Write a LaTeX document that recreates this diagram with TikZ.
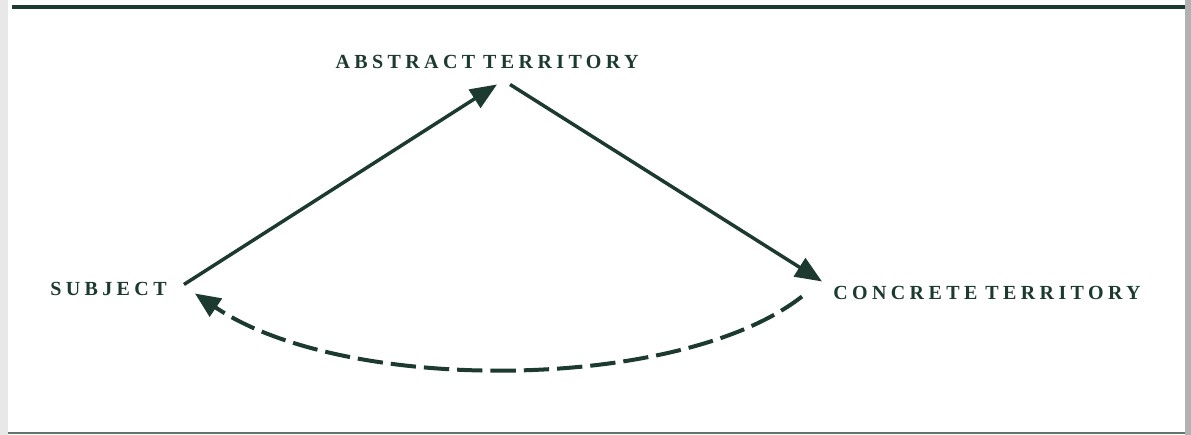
\documentclass[tikz,border=0pt]{standalone}
\usepackage{fontspec}
\setmainfont{Liberation Serif}
\newfontfamily\spaced[LetterSpace=22]{Liberation Serif}
\usetikzlibrary{arrows.meta}
\definecolor{ink}{RGB}{28,58,48}
\tikzset{
  lbl/.style={inner sep=0pt, text=ink, font=\spaced\bfseries\fontsize{15}{17}\selectfont},
  arr/.style={draw=ink, line width=2.6pt, -{Triangle[length=20pt,width=16pt]}},
  darr/.style={draw=ink, line width=3pt, dash pattern=on 19pt off 6pt, -{Triangle[length=19pt,width=16pt]}}
}
\begin{document}
\begin{tikzpicture}[x=0.75pt,y=-0.75pt]
\useasboundingbox (0,0) rectangle (1191,435);
\fill[white] (0,0) rectangle (1191,435);
% frame
\fill[gray!18] (0,0) rectangle (8,435);
\fill[gray!60] (1185,0) rectangle (1191,435);
\draw[ink, line width=2.4pt] (12,7) -- (1185,7);
\draw[ink!70, line width=1.8pt] (8,433) -- (1185,433);
% labels
\node[lbl, anchor=base] (abs) at (487,69) {ABSTRACT\hspace{6pt}TERRITORY};
\node[lbl, anchor=base west] (sub) at (50,295) {SUBJECT};
\node[lbl, anchor=base west] (con) at (833,299) {CONCRETE\hspace{6pt}TERRITORY};
% arrows
\draw[arr] ([shift={(17,-4)}]sub.east) -- ([shift={(10,15)}]abs.south);
\draw[arr] ([shift={(23,15)}]abs.south) -- ([shift={(-11,-11)}]con.west);
\draw[darr] ([shift={(-31,4)}]con.west) .. controls (680,392) and (345,395) .. ([shift={(28,5)}]sub.east);
\end{tikzpicture}
\end{document}
